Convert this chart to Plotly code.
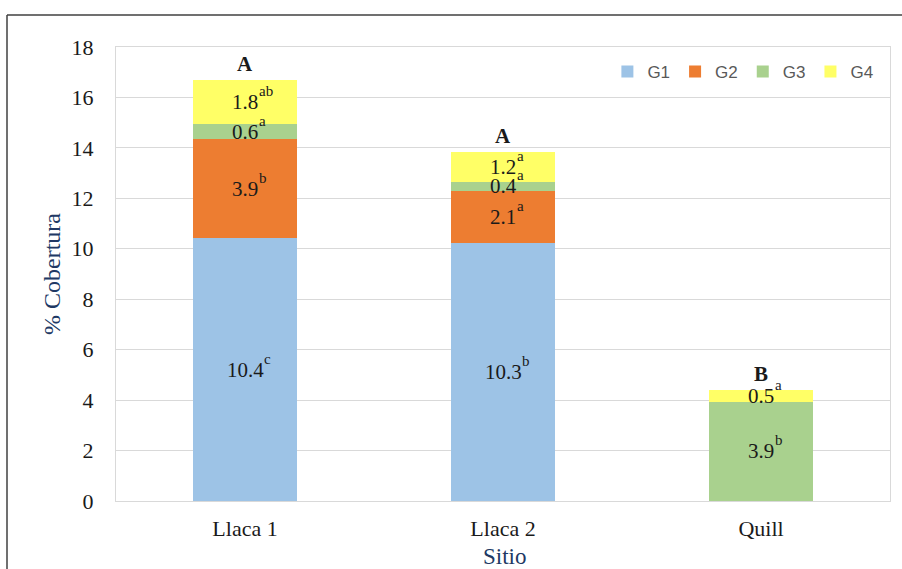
import plotly.graph_objects as go

sites = ["Llaca 1", "Llaca 2", "Quill"]
groups = ["G1", "G2", "G3", "G4"]
g1 = [10.42, 10.24, 0.0]
g2 = [3.92, 2.05, 0.0]
g3 = [0.61, 0.37, 3.94]
g4 = [1.76, 1.17, 0.46]
g1_lbl = ["10.4", "10.3", ""]
g2_lbl = ["3.9", "2.1", ""]
g3_lbl = ["0.6", "0.4", "3.9"]
g4_lbl = ["1.8", "1.2", "0.5"]
g1_sup = ["c", "b", ""]
g2_sup = ["b", "a", ""]
g3_sup = ["a", "a", "b"]
g4_sup = ["ab", "a", "a"]
site_letters = ["A", "A", "B"]
colors = ["#9DC3E6", "#ED7D31", "#A9D18E", "#FFFF66"]

series = [g1, g2, g3, g4]
labels = [g1_lbl, g2_lbl, g3_lbl, g4_lbl]
sups = [g1_sup, g2_sup, g3_sup, g4_sup]

SERIF = "Liberation Serif"
NAVY = "#203864"
LBL_SIZE = 21
SUP_SIZE = 15


def text_w(s, size):
    return sum(0.5 if ch.isdigit() else 0.25 for ch in s) * size


fig = go.Figure()
for name, vals, col in zip(groups, series, colors):
    fig.add_trace(go.Bar(x=sites, y=vals, name=name, marker=dict(color=col, line=dict(width=0)),
                         hoverinfo="skip"))

annotations = []
base = [0.0] * len(sites)
for vals, lbls, ss in zip(series, labels, sups):
    for i, (v, t, s) in enumerate(zip(vals, lbls, ss)):
        if v > 0 and t:
            mid = base[i] + v / 2
            annotations.append(dict(x=sites[i], y=mid, xref="x", yref="y", text=t,
                                    showarrow=False, xanchor="center", yanchor="middle",
                                    font=dict(family=SERIF, size=LBL_SIZE, color="#1a1a1a")))
            annotations.append(dict(x=sites[i], y=mid, xref="x", yref="y", text=s,
                                    showarrow=False, xanchor="left", yanchor="middle",
                                    xshift=text_w(t, LBL_SIZE) / 2 - 1, yshift=11,
                                    font=dict(family=SERIF, size=SUP_SIZE, color="#1a1a1a")))
        base[i] += v
for i, Lt in enumerate(site_letters):
    annotations.append(dict(x=sites[i], y=base[i], xref="x", yref="y", text="<b>" + Lt + "</b>",
                            showarrow=False, xanchor="center", yanchor="bottom", yshift=2,
                            font=dict(family=SERIF, size=21, color="#1a1a1a")))

L = 116; R = 12; T = 47; B = 68
W = 902; H = 569
pw = W - L - R; ph = H - T - B

# axis titles
annotations.append(dict(x=(52 - L) / pw, y=0.5, xref="paper", yref="paper", text="% Cobertura",
                        textangle=-90, showarrow=False, xanchor="center", yanchor="middle",
                        font=dict(family=SERIF, size=24, color=NAVY)))
annotations.append(dict(x=(504 - L) / pw, y=-(556 - 501) / ph, xref="paper", yref="paper", text="Sitio",
                        showarrow=False, xanchor="center", yanchor="middle",
                        font=dict(family=SERIF, size=23, color=NAVY)))

x_left = (7 - L) / pw
x_right = (W - L) / pw
y_top = 1 + (T - 15) / ph
y_bot = -(B + 5) / ph

shapes = [
    dict(type="line", xref="paper", yref="paper", x0=x_left, x1=x_right, y0=y_top, y1=y_top,
         line=dict(color="#404040", width=1.5)),
    dict(type="line", xref="paper", yref="paper", x0=x_left, x1=x_left, y0=y_bot, y1=y_top,
         line=dict(color="#404040", width=1.5)),
]

fig.update_layout(
    width=W, height=H,
    margin=dict(l=L, r=R, t=T, b=B, pad=0),
    paper_bgcolor="white", plot_bgcolor="white",
    barmode="stack", bargap=0.597,
    annotations=annotations, shapes=shapes,
    legend=dict(orientation="h", x=0.985, xanchor="right", y=0.945, yanchor="middle",
                font=dict(family="Liberation Sans", size=17, color="#595959"),
                bgcolor="rgba(0,0,0,0)", traceorder="normal", itemclick=False),
    xaxis=dict(showline=True, linecolor="#D9D9D9", linewidth=1, mirror=True, ticks="outside", ticklen=0,
               tickfont=dict(family=SERIF, size=22, color="#1a1a1a"), ticklabelstandoff=8,
               automargin=False),
    yaxis=dict(range=[0, 18], dtick=2, showgrid=True, gridcolor="#D9D9D9", gridwidth=1,
               showline=True, linecolor="#D9D9D9", linewidth=1, mirror=True, zeroline=False,
               ticks="outside", ticklen=0, ticklabelstandoff=17,
               tickfont=dict(family=SERIF, size=22, color="#1a1a1a"), automargin=False),
    showlegend=True,
)

fig.write_html("out.html", config={"displayModeBar": False},
               post_script="document.body.style.margin='0';document.body.style.overflow='hidden';")
